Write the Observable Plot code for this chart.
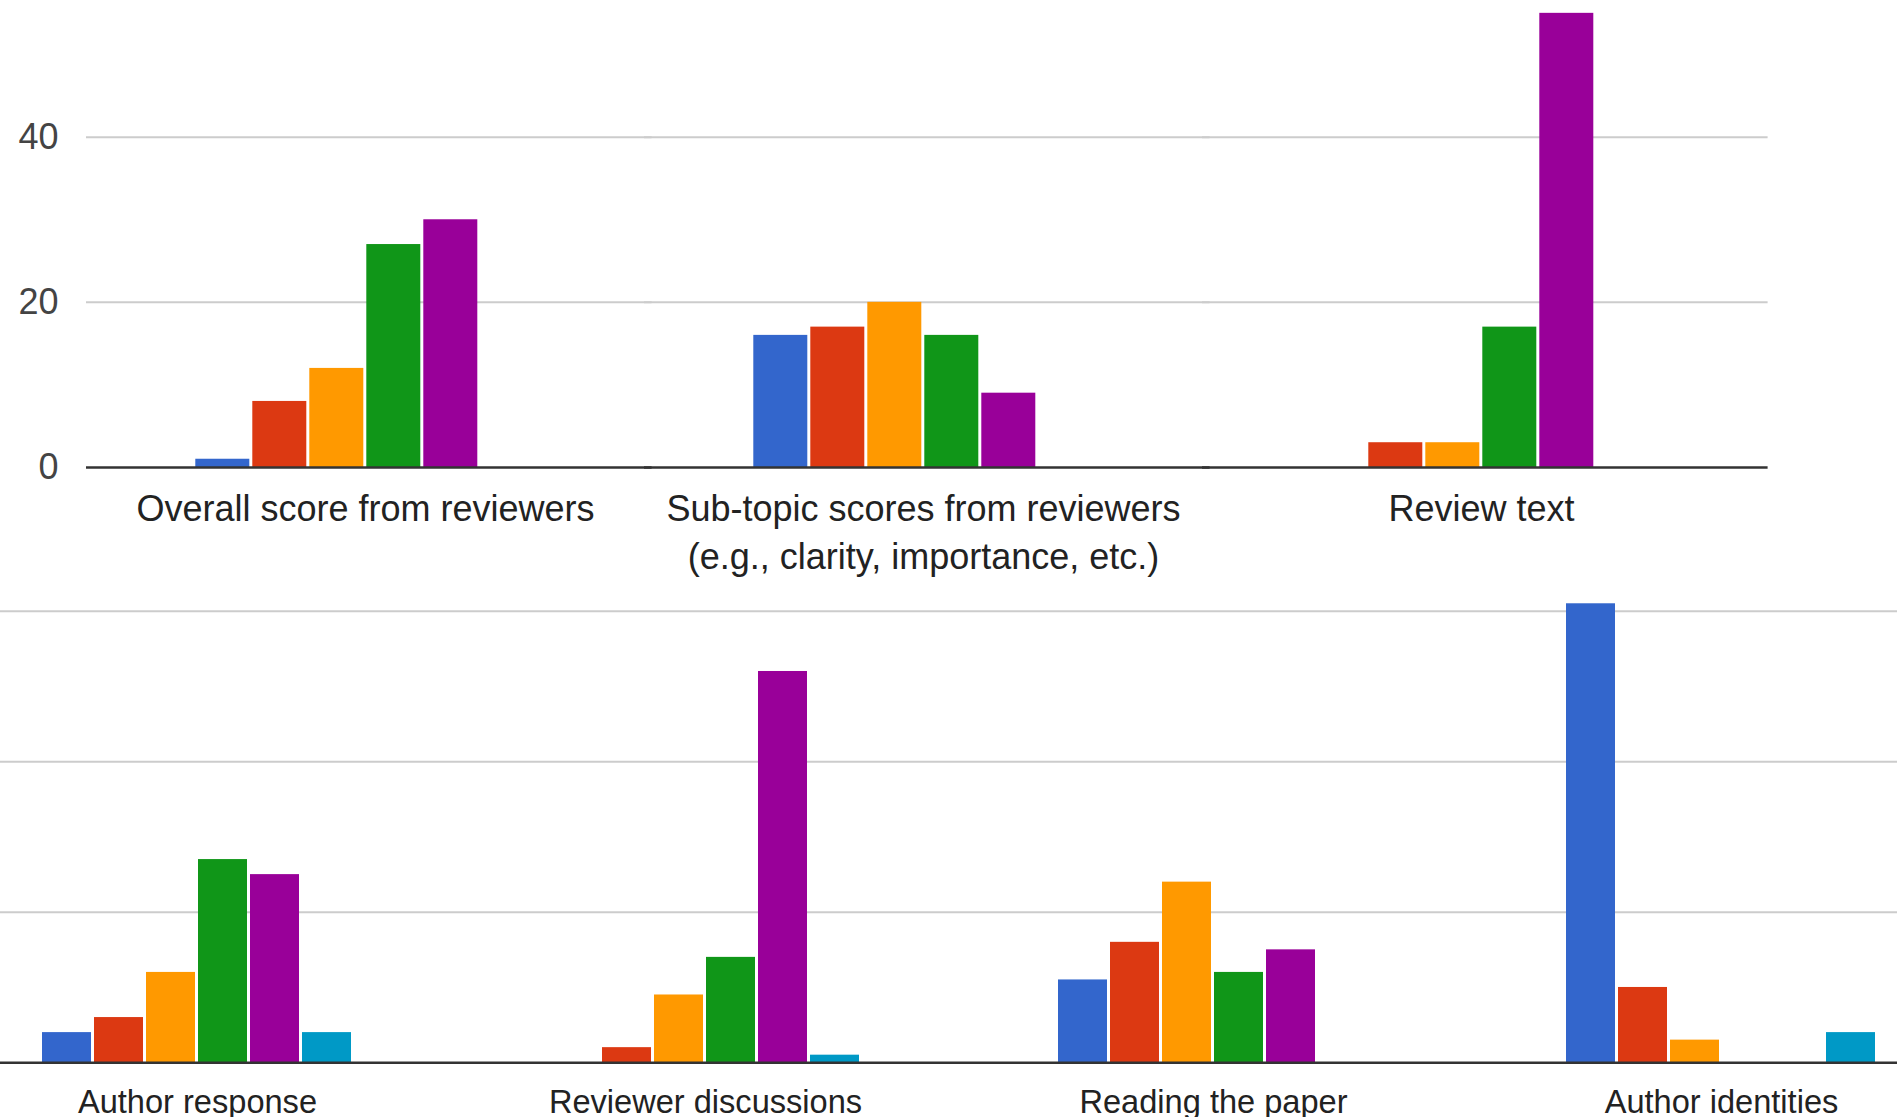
<!DOCTYPE html>
<html>
<head>
<meta charset="utf-8">
<script src="https://cdn.jsdelivr.net/npm/d3@7"></script>
<script src="https://cdn.jsdelivr.net/npm/@observablehq/plot@0.6"></script>
<style>
html, body { margin: 0; padding: 0; background: #fff; overflow: hidden; }
#wrap { position: relative; width: 1897px; height: 1117px; overflow: hidden; background: #fff; }
#top { position: absolute; left: 0; top: 0; width: 1769px; }
#bottom { position: absolute; left: -57px; top: 590px; width: 2032px; }
svg { display: block; }
</style>
</head>
<body>
<div id="wrap"><div id="top"></div><div id="bottom"></div></div>
<script>
// ---- data ----
const categories = [
  "Overall score from reviewers",
  "Sub-topic scores from reviewers (e.g., clarity, importance, etc.)",
  "Review text",
  "Author response",
  "Reviewer discussions",
  "Reading the paper",
  "Author identities"
];
const categoryLabels = [
  "Overall score from reviewers",
  "Sub-topic scores from reviewers\n(e.g., clarity, importance, etc.)",
  "Review text",
  "Author response",
  "Reviewer discussions",
  "Reading the paper",
  "Author identities"
];
const seriesNames = ["1", "2", "3", "4", "5", "6"];
const series1 = [1, 16, 0, 4, 0, 11, 61];
const series2 = [8, 17, 3, 6, 2, 16, 10];
const series3 = [12, 20, 3, 12, 9, 24, 3];
const series4 = [27, 16, 17, 27, 14, 12, 0];
const series5 = [30, 9, 55, 25, 52, 15, 0];
const series6 = [0, 0, 0, 4, 1, 0, 4];
const topTicks = [0, 20, 40];
const bottomTicks = [0, 20, 40, 60];

const colors = ["#3366cc", "#dc3912", "#ff9900", "#109618", "#990099", "#0099c6"];
const seriesValues = [series1, series2, series3, series4, series5, series6];
const rows = [];
categories.forEach((c, i) => seriesNames.forEach((s, j) =>
  rows.push({category: c, series: s, value: seriesValues[j][i]})));
const topCats = categories.slice(0, 3);
const bottomCats = categories.slice(3);
const labelOf = d => categoryLabels[categories.indexOf(d)];
const FONT = "'Liberation Sans', Arial, Helvetica, sans-serif";

function panel({cats, width, height, marginLeft, marginRight, marginTop, marginBottom, yMax, ticks, fontSize, labelDy, showAxis, paddingOuter, ruleExtend}) {
  const data = rows.filter(r => cats.includes(r.category));
  return Plot.plot({
    width, height, marginLeft, marginRight, marginTop, marginBottom,
    style: {fontFamily: FONT, fontSize: fontSize + "px", color: "#222", background: "#fff", overflow: "visible", maxWidth: "none"},
    fx: {domain: cats, padding: 0, axis: null, label: null},
    x: {domain: seriesNames, paddingInner: 0.05, paddingOuter, axis: null},
    y: {domain: [0, yMax], axis: null},
    color: {domain: seriesNames, range: colors},
    marks: [
      Plot.ruleY(ticks.filter(t => t > 0), {stroke: "#cccccc", strokeWidth: 2, insetRight: -ruleExtend}),
      Plot.barY(data, {fx: "category", x: "series", y: "value", fill: "series"}),
      Plot.ruleY([0], {stroke: "#333333", strokeWidth: 2.5, insetRight: -ruleExtend}),
      Plot.text(cats, {fx: d => d, text: labelOf, frameAnchor: "bottom", dy: labelDy, lineAnchor: "top", lineHeight: 1.33, fill: "#222"}),
      showAxis ? Plot.axisY({ticks, tickSize: 0, tickPadding: 28, fill: "#444", label: null}) : null
    ]
  });
}

document.getElementById("top").appendChild(panel({
  cats: topCats, width: 1769, height: 590, marginLeft: 84.7, marginRight: 7.6,
  marginTop: 136.7, marginBottom: 123, yMax: 40, ticks: topTicks,
  fontSize: 36, labelDy: 20, showAxis: true, paddingOuter: 1.877, ruleExtend: 7.6
}));

document.getElementById("bottom").appendChild(panel({
  cats: bottomCats, width: 2032, height: 527, marginLeft: 0, marginRight: 0,
  marginTop: 20.8, marginBottom: 54.8, yMax: 60, ticks: bottomTicks,
  fontSize: 32.6, labelDy: 20, showAxis: false, paddingOuter: 1.857, ruleExtend: 0
}));
</script>
</body>
</html>
